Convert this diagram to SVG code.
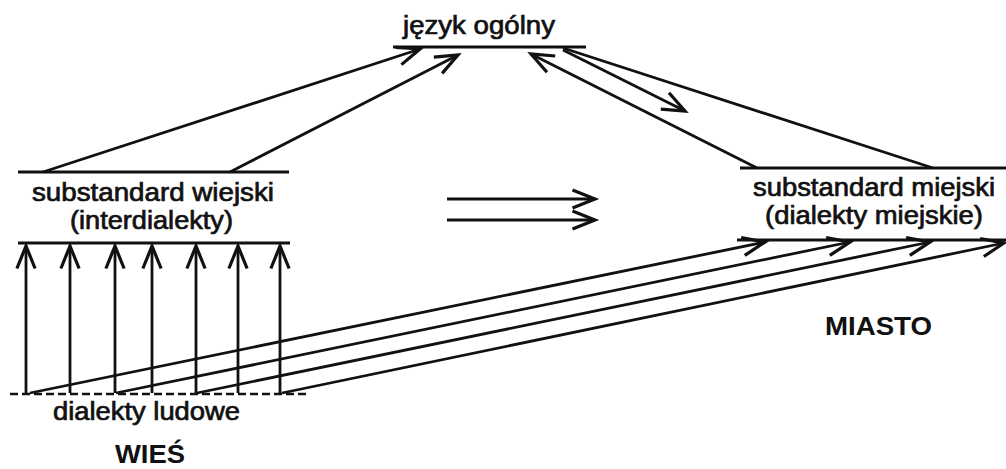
<svg xmlns="http://www.w3.org/2000/svg" width="1006" height="469" viewBox="0 0 1006 469">
<style>
.t{font-family:"Liberation Sans",Arial,sans-serif;font-size:25px;fill:#111;stroke:#111;stroke-width:0.7}
.b{font-family:"Liberation Sans",Arial,sans-serif;font-size:26px;font-weight:bold;fill:#111}
.ln{stroke:#111;stroke-width:2.8;fill:none}
.ar{stroke:#111;stroke-width:2.8;fill:none;marker-end:url(#ah)}
</style>
<defs>
<marker id="ah" markerUnits="userSpaceOnUse" markerWidth="30" markerHeight="30" viewBox="-24 -12 28 24" refX="0" refY="0" orient="auto" overflow="visible">
<path d="M-21,-8.5 L0,0 L-21,8.5" fill="none" stroke="#111" stroke-width="3" stroke-linejoin="miter"/>
</marker>
</defs>
<g id="jezyk-ogolny">
<line class="ln" x1="393" y1="47" x2="586" y2="47"/>
<text class="t" x="403" y="34" textLength="152" lengthAdjust="spacingAndGlyphs">język ogólny</text>
</g>
<g id="substandard-wiejski">
<line class="ln" x1="18" y1="172" x2="289" y2="172"/>
<line class="ln" x1="18" y1="243" x2="290" y2="243"/>
<text class="t" x="32" y="201" textLength="242" lengthAdjust="spacingAndGlyphs">substandard wiejski</text>
<text class="t" x="70" y="229" textLength="163" lengthAdjust="spacingAndGlyphs">(interdialekty)</text>
</g>
<g id="substandard-miejski">
<line class="ln" x1="740" y1="168" x2="1006" y2="168"/>
<line class="ln" x1="737" y1="240" x2="1006" y2="240"/>
<text class="t" x="753" y="196" textLength="242" lengthAdjust="spacingAndGlyphs">substandard miejski</text>
<text class="t" x="765" y="224" textLength="218" lengthAdjust="spacingAndGlyphs">(dialekty miejskie)</text>
</g>
<g id="dialekty-ludowe">
<line x1="10" y1="394" x2="306" y2="394" stroke="#111" stroke-width="2.6" stroke-dasharray="8,4"/>
<text class="t" x="53" y="420" textLength="187" lengthAdjust="spacingAndGlyphs">dialekty ludowe</text>
</g>
<g id="wies"><text class="b" x="115" y="463" textLength="70" lengthAdjust="spacingAndGlyphs">WIEŚ</text></g>
<g id="miasto"><text class="b" x="825" y="335" textLength="107" lengthAdjust="spacingAndGlyphs">MIASTO</text></g>
<g id="connectors">
<line class="ar" x1="43" y1="172" x2="420" y2="49"/>
<line class="ar" x1="230" y1="172" x2="458" y2="55"/>
<line class="ln" x1="933" y1="168" x2="563" y2="48"/>
<line class="ar" x1="757" y1="168" x2="531" y2="54"/>
<line class="ar" x1="563" y1="50" x2="685" y2="111"/>
<line class="ar" x1="26" y1="393" x2="26" y2="246"/>
<line class="ar" x1="70" y1="393" x2="70" y2="246"/>
<line class="ar" x1="115" y1="393" x2="115" y2="246"/>
<line class="ar" x1="152" y1="393" x2="152" y2="246"/>
<line class="ar" x1="196" y1="393" x2="196" y2="246"/>
<line class="ar" x1="238" y1="393" x2="238" y2="246"/>
<line class="ar" x1="280" y1="393" x2="280" y2="246"/>
<line class="ar" x1="30" y1="393" x2="765" y2="242"/>
<line class="ar" x1="116" y1="393" x2="850" y2="242"/>
<line class="ar" x1="197" y1="393" x2="930" y2="242"/>
<line class="ar" x1="282" y1="393" x2="1004" y2="243"/>
<line class="ar" x1="447" y1="199" x2="595" y2="199"/>
<line class="ar" x1="447" y1="220" x2="595" y2="220"/>
</g>
</svg>
